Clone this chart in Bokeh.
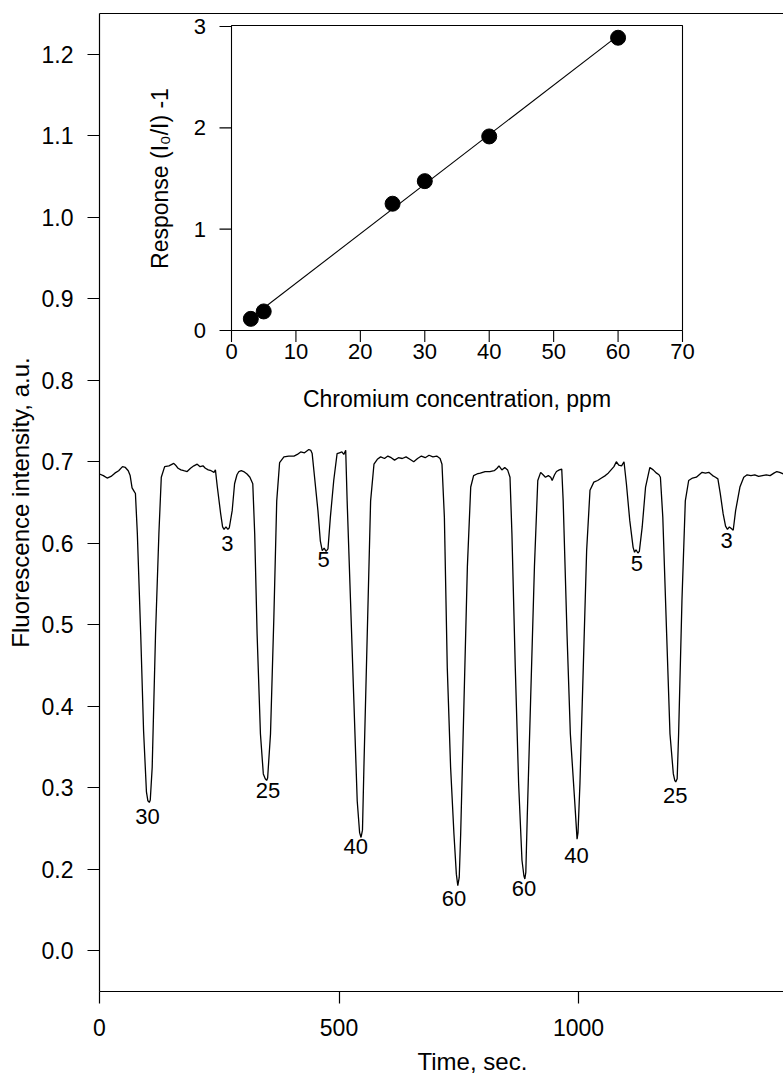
import numpy as np
from bokeh.plotting import figure
from bokeh.models import Range1d, FixedTicker, LinearAxis, Title
from bokeh.core.properties import value
from bokeh.embed import file_html
from bokeh.resources import INLINE

FONT = "Liberation Sans"

# ---------------- data: main trace (time, fluorescence) ----------------
time_s = [0, 8, 16, 24, 32, 40, 48, 54, 60, 64, 68, 72, 75,
          79, 86, 92, 98, 101, 104, 106, 110, 117, 124, 129, 136,
          145, 155, 160, 164, 170, 176, 183, 190, 197, 204, 210, 216, 221, 227, 233, 239, 242,
          246, 253, 257, 260, 264, 268, 271, 277, 282, 287, 291, 296, 301, 308, 314, 320,
          324, 329, 336, 342, 346, 349, 351, 357, 364, 370, 376, 385, 395, 406, 413, 420, 428, 437, 441, 444,
          449, 456, 461, 465, 469, 473, 477, 482, 489, 496, 501, 506, 510, 514,
          517, 524, 531, 538, 543, 546, 549, 552, 559, 566, 573, 580, 587, 595, 602, 609, 616, 624, 632,
          640, 648, 656, 664, 672, 680, 688, 696, 704, 711, 715,
          720, 726, 733, 740, 745, 748, 751, 754, 761, 768, 775, 781, 788, 795, 805, 815, 824, 830, 834,
          840, 846, 852, 857,
          861, 868, 875, 882, 886, 888, 890, 893, 900, 908, 915, 921, 926, 931, 937, 942, 945, 950, 954,
          960, 965,
          968, 976, 983, 992, 997, 999, 1003, 1010, 1017, 1024, 1032, 1040, 1048, 1056, 1062, 1068, 1074,
          1079, 1084, 1090, 1095,
          1100, 1107, 1114, 1117, 1120, 1124, 1127, 1133, 1140, 1149, 1156, 1163, 1168, 1171,
          1176, 1184, 1191, 1198, 1201, 1203, 1206, 1209, 1216, 1223, 1230, 1238, 1246, 1252, 1258, 1265,
          1272, 1280, 1286, 1291,
          1296, 1302, 1307, 1311, 1315, 1319, 1323, 1328, 1337, 1345, 1352, 1360, 1368, 1376, 1384, 1392,
          1400, 1408, 1414, 1420, 1428, 1436, 1444]
intensity = [0.685, 0.683, 0.680, 0.682, 0.686, 0.689, 0.694, 0.693, 0.689, 0.683, 0.668, 0.664, 0.661,
             0.612, 0.489, 0.370, 0.295, 0.284, 0.282, 0.285, 0.325, 0.489, 0.612, 0.681, 0.694,
             0.695, 0.698, 0.695, 0.692, 0.690, 0.689, 0.688, 0.692, 0.695, 0.697, 0.694, 0.695, 0.692, 0.690, 0.689, 0.687, 0.690,
             0.669, 0.636, 0.620, 0.617, 0.620, 0.617, 0.619, 0.640, 0.673, 0.684, 0.688, 0.689, 0.688, 0.685, 0.681, 0.673,
             0.612, 0.489, 0.366, 0.317, 0.311, 0.309, 0.312, 0.366, 0.509, 0.652, 0.699, 0.706, 0.707, 0.707, 0.709, 0.712, 0.711, 0.715, 0.714, 0.710,
             0.681, 0.640, 0.603, 0.591, 0.594, 0.590, 0.593, 0.632, 0.677, 0.710, 0.711, 0.712, 0.709, 0.714,
             0.652, 0.530, 0.407, 0.284, 0.245, 0.239, 0.248, 0.325, 0.489, 0.652, 0.697, 0.703, 0.706, 0.704, 0.707, 0.705, 0.702, 0.705, 0.704,
             0.706, 0.703, 0.700, 0.704, 0.707, 0.705, 0.708, 0.706, 0.707, 0.704, 0.697,
             0.632, 0.448, 0.325, 0.243, 0.194, 0.180, 0.190, 0.243, 0.407, 0.571, 0.669, 0.683, 0.685, 0.686, 0.688, 0.688, 0.689, 0.692, 0.695,
             0.690, 0.693, 0.690, 0.681,
             0.612, 0.448, 0.305, 0.211, 0.192, 0.188, 0.196, 0.264, 0.407, 0.571, 0.677, 0.687, 0.684, 0.681, 0.683, 0.681, 0.677, 0.684, 0.688,
             0.690, 0.691,
             0.652, 0.489, 0.366, 0.284, 0.237, 0.245, 0.305, 0.448, 0.591, 0.665, 0.675, 0.677, 0.680, 0.683, 0.686, 0.690, 0.694,
             0.700, 0.696, 0.695, 0.700,
             0.673, 0.628, 0.595, 0.589, 0.592, 0.588, 0.590, 0.620, 0.669, 0.693, 0.690, 0.686, 0.684, 0.681,
             0.632, 0.489, 0.366, 0.317, 0.309, 0.307, 0.311, 0.366, 0.530, 0.652, 0.677, 0.680, 0.681, 0.684, 0.687, 0.686,
             0.687, 0.683, 0.681, 0.679,
             0.661, 0.636, 0.621, 0.617, 0.620, 0.618, 0.616, 0.640, 0.669, 0.681, 0.684, 0.683, 0.684, 0.682, 0.683, 0.684,
             0.683, 0.686, 0.688, 0.687, 0.685, 0.687, 0.686]

# peak annotations (concentration in ppm)
peak_text = ["30", "3", "25", "5", "40", "60", "60", "40", "5", "25", "3"]
peak_t = [100, 267, 352, 468, 535, 740, 886, 996, 1122, 1202, 1309]
peak_v = [0.265, 0.600, 0.297, 0.580, 0.228, 0.164, 0.176, 0.217, 0.575, 0.290, 0.603]

# main axis ticks
x_ticks = [0, 500, 1000]
y_ticks = [0.1, 0.2, 0.3, 0.4, 0.5, 0.6, 0.7, 0.8, 0.9, 1.0, 1.1, 1.2]
y_tick_labels = ["0.0", "0.2", "0.3", "0.4", "0.5", "0.6", "0.7", "0.8", "0.9", "1.0", "1.1", "1.2"]

# ---------------- data: inset calibration ----------------
conc_ppm = [3, 5, 25, 30, 40, 60]
response = [0.115, 0.188, 1.251, 1.474, 1.915, 2.889]
inset_x_ticks = [0, 10, 20, 30, 40, 50, 60, 70]
inset_y_ticks = [0, 1, 2, 3]
inset_x_lim = (0, 70)
inset_y_lim = (0, 3.01)

# ---------------- layout (pixels on the page) ----------------
W, H = 783, 1086
FL, FR, FT, FB = 99, 783, 13, 991          # main frame edges (page px)
IL, IR, IB = 231, 682, 330                 # inset frame edges (page px)
IY3 = 26                                   # page y of inset value 3
MAIN_X = (0, (FR - FL) / 0.479)
MAIN_Y = (0.05, 1.25)

sx = (IR - IL) / (inset_x_lim[1] - inset_x_lim[0])
sy = (IB - IY3) / 3.0
ix_range = Range1d(inset_x_lim[0] - (IL - FL) / sx, inset_x_lim[1] + (FR - IR) / sx)
iy_range = Range1d(0 - (FB - IB) / sy, 3.0 + (IY3 - FT) / sy)

p = figure(width=W, height=H, output_backend="svg", toolbar_location=None,
           x_range=Range1d(*MAIN_X), y_range=Range1d(*MAIN_Y),
           min_border_left=FL, min_border_right=W - FR, min_border_top=FT,
           min_border_bottom=H - FB)
p.extra_x_ranges = {"ix": ix_range}
p.extra_y_ranges = {"iy": iy_range}
p.background_fill_color = "white"
p.border_fill_color = "white"
p.outline_line_color = None
p.grid.visible = False

# ---- main trace
p.line(time_s, intensity, line_color="black", line_width=1.3)
p.text(x=peak_t, y=peak_v, text=peak_text, text_font=value(FONT), text_font_size="22px",
       text_align="center", text_baseline="middle", text_color="black")

for ax in (p.xaxis[0], p.yaxis[0]):
    ax.axis_line_color = "black"
    ax.axis_line_width = 1.2
    ax.major_tick_line_color = "black"
    ax.major_tick_line_width = 1.2
    ax.major_tick_in = 0
    ax.major_tick_out = 12
    ax.minor_tick_line_color = None
    ax.major_label_text_font = FONT
    ax.major_label_text_font_size = "23px"
    ax.major_label_text_color = "black"
    ax.axis_label_text_font = FONT
    ax.axis_label_text_font_size = "24px"
    ax.axis_label_text_font_style = "normal"
    ax.axis_label_text_color = "black"
p.xaxis.ticker = FixedTicker(ticks=x_ticks)
p.yaxis.ticker = FixedTicker(ticks=y_ticks)
p.yaxis.major_label_overrides = dict(zip(y_ticks, y_tick_labels))
p.xaxis.major_label_standoff = 15
p.yaxis.major_label_standoff = 14
p.yaxis.axis_label = "Fluorescence intensity, a.u."
p.yaxis.axis_label_standoff = 5

top_axis = LinearAxis(ticker=FixedTicker(ticks=[]), major_tick_out=0, major_tick_in=0,
                      major_label_standoff=0, minor_tick_line_color=None,
                      axis_line_color="black", axis_line_width=1.2)
p.add_layout(top_axis, "above")

p.add_layout(Title(text="Time, sec.", align="left", offset=318, standoff=14,
                   text_font=FONT, text_font_size="24px", text_font_style="normal",
                   text_color="black"), "below")

# ---- inset (drawn on the inset ranges)
R = dict(x_range_name="ix", y_range_name="iy")
p.quad(left=[inset_x_lim[0]], right=[inset_x_lim[1]], bottom=[inset_y_lim[0]], top=[inset_y_lim[1]],
       fill_color="white", line_color="black", line_width=1.1, **R)

fit = np.polyfit(conc_ppm, response, 1)
fit_x = [min(conc_ppm), max(conc_ppm)]
fit_y = [fit[0] * v + fit[1] for v in fit_x]
p.line(fit_x, fit_y, line_color="black", line_width=1.1, **R)
p.scatter(conc_ppm, response, size=15, fill_color="black", line_color="black", **R)

tick_y = 12 / sx
tick_x = 11.5 / sy
p.segment(x0=[inset_x_lim[0]] * len(inset_y_ticks), x1=[inset_x_lim[0] - tick_y] * len(inset_y_ticks),
          y0=inset_y_ticks, y1=inset_y_ticks, line_color="black", line_width=1.1, **R)
p.segment(x0=inset_x_ticks, x1=inset_x_ticks,
          y0=[inset_y_lim[0]] * len(inset_x_ticks), y1=[inset_y_lim[0] - tick_x] * len(inset_x_ticks),
          line_color="black", line_width=1.1, **R)
p.text(x=[inset_x_lim[0] - 25.5 / sx] * len(inset_y_ticks), y=inset_y_ticks,
       text=[str(t) for t in inset_y_ticks], text_font=value(FONT), text_font_size="22px",
       text_align="right", text_baseline="middle", text_color="black", **R)
p.text(x=inset_x_ticks, y=[inset_y_lim[0] - 20.5 / sy] * len(inset_x_ticks),
       text=[str(t) for t in inset_x_ticks], text_font=value(FONT), text_font_size="22px",
       text_align="center", text_baseline="middle", text_color="black", **R)
p.text(x=[(inset_x_lim[0] + inset_x_lim[1]) / 2], y=[inset_y_lim[0] - 68 / sy],
       text=["Chromium concentration, ppm"], text_font=value(FONT), text_font_size="23px",
       text_align="center", text_baseline="middle", text_color="black", **R)
p.text(x=[inset_x_lim[0] - (IL - 159) / sx], y=[1.5],
       text=["Response (I\u2080/I) -1"], text_font=value(FONT), text_font_size="23px",
       text_align="center", text_baseline="middle", angle=np.pi / 2, text_color="black", **R)

open("out.html", "w").write(file_html(p, INLINE))
